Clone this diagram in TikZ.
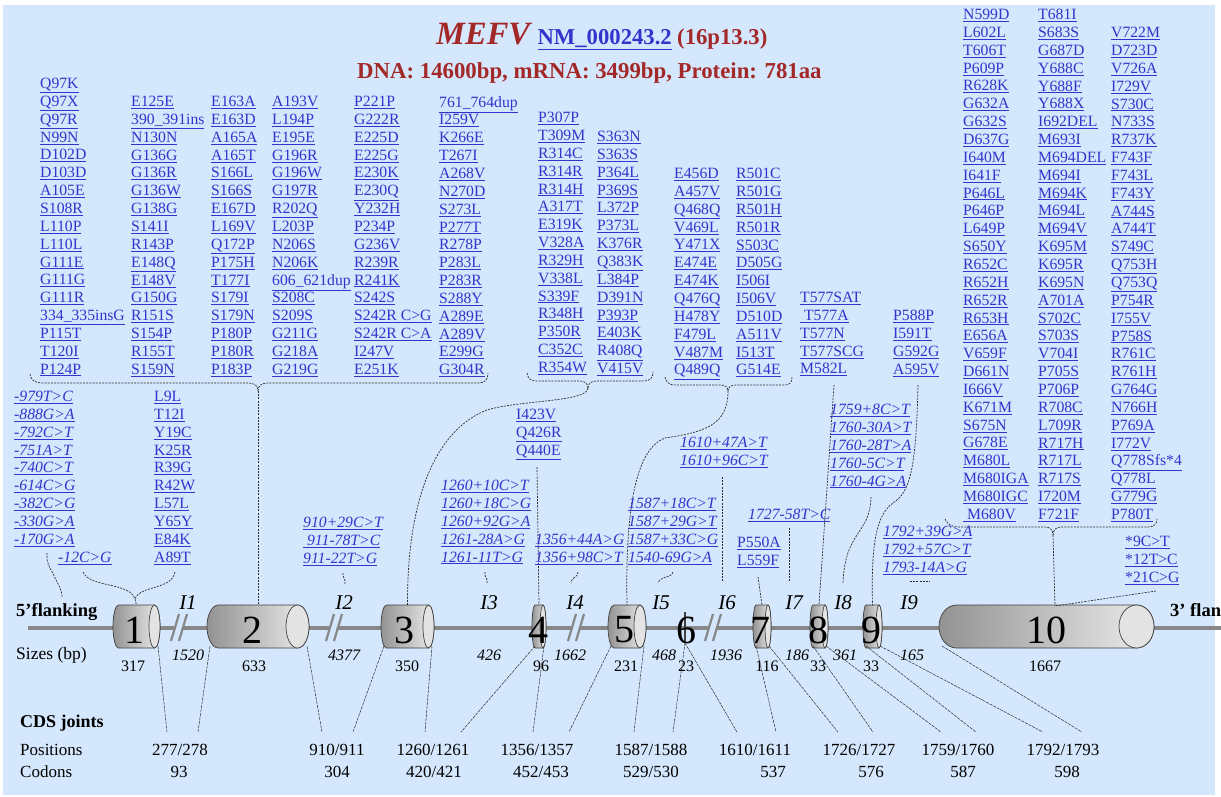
\documentclass[tikz,border=0pt]{standalone}
\usepackage{fontspec}
\setmainfont{Liberation Serif}
\usetikzlibrary{positioning}

\definecolor{bgblue}{RGB}{212,231,252}
\definecolor{linkblue}{RGB}{52,52,205}
\definecolor{titlered}{RGB}{163,40,40}
\definecolor{linegray}{RGB}{135,135,135}

\newcommand{\lnk}[1]{\underline{#1}}
\newcommand{\mutsize}{\fontsize{15.7}{17.85}\selectfont}

% exon cylinder: name, left x, right x, cap radius, label x, label
\newcommand{\exon}[6]{%
  \shade[left color=gray!85, right color=gray!15, draw=gray!50!black, line width=0.7pt]
    (#2+#4,605) -- (#3-#4,605) arc (-90:90:#4 and 21.5) -- (#2+#4,648)
    arc (90:270:#4 and 21.5) -- cycle;
  \draw[fill=gray!22, draw=gray!50!black, line width=0.7pt] (#3-#4,626.5) ellipse (#4 and 21.5);
  \coordinate (#1-t) at ({(#2+#3)/2},605);
  \coordinate (#1-l) at (#2+3,646);
  \coordinate (#1-r) at (#3-2,646);
  \node[exonlbl] (#1) at (#5,630) {#6};
}

\begin{document}
\begin{tikzpicture}[x=1pt, y=-1pt,
    mut/.style={anchor=north west, inner sep=0pt, align=left, text=linkblue, font=\mutsize},
    imut/.style={mut, font=\mutsize\itshape},
    conn/.style={gray!35!black, line width=0.7pt, dash pattern=on 2pt off 1.2pt},
    joint/.style={gray!35!black, line width=0.5pt, dash pattern=on 3pt off 1pt},
    exonlbl/.style={inner sep=0pt, font=\fontsize{40}{40}\selectfont},
    intronlbl/.style={inner sep=0pt, font=\fontsize{21}{21}\selectfont\itshape},
    exsize/.style={inner sep=0pt, font=\fontsize{16}{16}\selectfont},
    insize/.style={inner sep=0pt, font=\fontsize{16}{16}\selectfont\itshape},
    cds/.style={inner sep=0pt, font=\fontsize{17}{17}\selectfont}]
    \useasboundingbox (0,0) rectangle (1221,797);
    \clip (0,0) rectangle (1221,797);
    \fill[bgblue] (3,5) rectangle (1215,795);

    % Title
    \node[anchor=base west, inner sep=0pt, text=titlered, font=\fontsize{32.5}{32.5}\selectfont\bfseries\itshape] (gene) at (436,45) {MEFV};
    \node[base right=7pt of gene, inner sep=0pt, text=linkblue, font=\fontsize{22.7}{22.7}\selectfont\bfseries] (acc) {\lnk{NM\_000243.2}};
    \node[base right=5pt of acc, inner sep=0pt, text=titlered, font=\fontsize{22.7}{22.7}\selectfont\bfseries] (band) {(16p13.3)};
    \node[anchor=base west, inner sep=0pt, text=titlered, font=\fontsize{22.8}{22.8}\selectfont\bfseries] (stats) at (357,79) {DNA: 14600bp, mRNA: 3499bp, Protein: 781aa};

    % Gene line and exons
    \draw[line width=4pt, linegray] (28,628) -- (1230,628);
    \foreach \bx in {180,335,577,714} {
        \fill[bgblue] (\bx-8,641) -- (\bx-2,641) -- (\bx+6,614) -- (\bx,614) -- cycle;
        \draw[line width=2.2pt, linegray] (\bx-9,641) -- (\bx-1,614);
        \draw[line width=2.2pt, linegray] (\bx-1,641) -- (\bx+7,614);
    }
    \exon{ex1}{113}{160}{5.5}{134}{1}
    \exon{ex2}{207}{309}{11.5}{252}{2}
    \exon{ex3}{381}{434}{5.5}{404}{3}
    \exon{ex4}{532}{546}{3}{538}{4}
    \exon{ex5}{608}{646}{6}{624}{5}
    \exon{ex7}{753}{771}{3}{760}{7}
    \exon{ex8}{810}{828}{3}{818}{8}
    \exon{ex9}{863}{882}{3}{871}{9}
    \exon{ex10}{939}{1154}{17.5}{1046}{10}
    % exon 6 is only a stroke
    \draw[line width=2pt, black!75] (685,612) -- (685,643);
    \coordinate (ex6-l) at (685,643);
    \coordinate (ex6-r) at (685,643);
    \node[exonlbl] (ex6) at (686,630) {6};

    \node[anchor=west, inner sep=0pt, font=\fontsize{18.5}{18.5}\selectfont\bfseries] (flank5) at (16,612) {5'flanking};
    \node[anchor=west, inner sep=0pt, font=\fontsize{18.5}{18.5}\selectfont\bfseries] (flank3) at (1170,612) {3' flanking};

    % Introns
    \node[intronlbl] (I1) at (188,603) {I1};
    \node[intronlbl] (I2) at (344,603) {I2};
    \node[intronlbl] (I3) at (489,603) {I3};
    \node[intronlbl] (I4) at (575,603) {I4};
    \node[intronlbl] (I5) at (661,603) {I5};
    \node[intronlbl] (I6) at (727,603) {I6};
    \node[intronlbl] (I7) at (794,603) {I7};
    \node[intronlbl] (I8) at (843,603) {I8};
    \node[intronlbl] (I9) at (909,603) {I9};

    % Sizes
    \node[anchor=west, inner sep=0pt, font=\fontsize{17.5}{17.5}\selectfont] (sizes) at (16,655) {Sizes (bp)};
    \node[exsize] (sz1) at (133,666) {317};
    \node[exsize] (sz2) at (254,666) {633};
    \node[exsize] (sz3) at (407,666) {350};
    \node[exsize] (sz4) at (541,666) {96};
    \node[exsize] (sz5) at (626,666) {231};
    \node[exsize] (sz6) at (686,666) {23};
    \node[exsize] (sz7) at (767,666) {116};
    \node[exsize] (sz8) at (818,666) {33};
    \node[exsize] (sz9) at (871,666) {33};
    \node[exsize] (sz10) at (1045,666) {1667};
    \node[insize] (isz1) at (188,655) {1520};
    \node[insize] (isz2) at (344,655) {4377};
    \node[insize] (isz3) at (489,655) {426};
    \node[insize] (isz4) at (570,655) {1662};
    \node[insize] (isz5) at (664,655) {468};
    \node[insize] (isz6) at (726,655) {1936};
    \node[insize] (isz7) at (797,655) {186};
    \node[insize] (isz8) at (845,655) {361};
    \node[insize] (isz9) at (912,655) {165};

    % CDS joints
    \node[anchor=west, inner sep=0pt, font=\fontsize{18}{18}\selectfont\bfseries] (joints) at (20,723) {CDS joints};
    \node[anchor=west, cds] (posrow) at (20,750) {Positions};
    \node[anchor=west, cds] (codrow) at (20,772) {Codons};
    \node[cds] (p1) at (180,750) {277/278};
    \node[cds] (p2) at (337,750) {910/911};
    \node[cds] (p3) at (433,750) {1260/1261};
    \node[cds] (p4) at (537,750) {1356/1357};
    \node[cds] (p5) at (651,750) {1587/1588};
    \node[cds] (p6) at (755,750) {1610/1611};
    \node[cds] (p7) at (859,750) {1726/1727};
    \node[cds] (p8) at (958,750) {1759/1760};
    \node[cds] (p9) at (1063,750) {1792/1793};
    \node[cds] (c1) at (179,772) {93};
    \node[cds] (c2) at (337,772) {304};
    \node[cds] (c3) at (434,772) {420/421};
    \node[cds] (c4) at (541,772) {452/453};
    \node[cds] (c5) at (651,772) {529/530};
    \node[cds] (c6) at (773,772) {537};
    \node[cds] (c7) at (871,772) {576};
    \node[cds] (c8) at (963,772) {587};
    \node[cds] (c9) at (1067,772) {598};
    \draw[joint] (ex1-r) -- ([shift={(-13,-12)}]p1.north);
    \draw[joint] (ex2-l) -- ([shift={(18,-12)}]p1.north);
    \draw[joint] (ex2-r) -- ([shift={(-15,-12)}]p2.north);
    \draw[joint] (ex3-l) -- ([shift={(16,-12)}]p2.north);
    \draw[joint] (ex3-r) -- ([shift={(-8,-12)}]p3.north);
    \draw[joint] (ex4-l) -- ([shift={(28,-12)}]p3.north);
    \draw[joint] (ex4-r) -- ([shift={(-4,-12)}]p4.north);
    \draw[joint] (ex5-l) -- ([shift={(32,-12)}]p4.north);
    \draw[joint] (ex5-r) -- ([shift={(-17,-12)}]p5.north);
    \draw[joint] (ex6-l) -- ([shift={(22,-12)}]p5.north);
    \draw[joint] (ex6-r) -- ([shift={(-18,-12)}]p6.north);
    \draw[joint] (ex7-l) -- ([shift={(21,-12)}]p6.north);
    \draw[joint] (ex7-r) -- ([shift={(-21,-12)}]p7.north);
    \draw[joint] (ex8-l) -- ([shift={(14,-12)}]p7.north);
    \draw[joint] (ex8-r) -- ([shift={(-17,-12)}]p8.north);
    \draw[joint] (ex9-l) -- ([shift={(18,-12)}]p8.north);
    \draw[joint] (ex9-r) -- ([shift={(-20,-12)}]p9.north);
    \draw[joint] (ex10-l) -- ([shift={(19,-12)}]p9.north);

    % Exon 2 variants
    \node[mut] (colA) at (40,78) {\lnk{Q97K}\\\lnk{Q97X}\\\lnk{Q97R}\\\lnk{N99N}\\\lnk{D102D}\\\lnk{D103D}\\\lnk{A105E}\\\lnk{S108R}\\\lnk{L110P}\\\lnk{L110L}\\\lnk{G111E}\\\lnk{G111G}\\\lnk{G111R}\\\lnk{334\_335insG}\\\lnk{P115T}\\\lnk{T120I}\\\lnk{P124P}};
    \node[mut] (colB) at (131,96) {\lnk{E125E}\\\lnk{390\_391ins}\\\lnk{N130N}\\\lnk{G136G}\\\lnk{G136R}\\\lnk{G136W}\\\lnk{G138G}\\\lnk{S141I}\\\lnk{R143P}\\\lnk{E148Q}\\\lnk{E148V}\\\lnk{G150G}\\\lnk{R151S}\\\lnk{S154P}\\\lnk{R155T}\\\lnk{S159N}};
    \node[mut] (colC) at (211,96) {\lnk{E163A}\\\lnk{E163D}\\\lnk{A165A}\\\lnk{A165T}\\\lnk{S166L}\\\lnk{S166S}\\\lnk{E167D}\\\lnk{L169V}\\\lnk{Q172P}\\\lnk{P175H}\\\lnk{T177I}\\\lnk{S179I}\\\lnk{S179N}\\\lnk{P180P}\\\lnk{P180R}\\\lnk{P183P}};
    \node[mut] (colD) at (272,96) {\lnk{A193V}\\\lnk{L194P}\\\lnk{E195E}\\\lnk{G196R}\\\lnk{G196W}\\\lnk{G197R}\\\lnk{R202Q}\\\lnk{L203P}\\\lnk{N206S}\\\lnk{N206K}\\\lnk{606\_621dup}\\\lnk{S208C}\\\lnk{S209S}\\\lnk{G211G}\\\lnk{G218A}\\\lnk{G219G}};
    \node[mut] (colE) at (354,96) {\lnk{P221P}\\\lnk{G222R}\\\lnk{E225D}\\\lnk{E225G}\\\lnk{E230K}\\\lnk{E230Q}\\\lnk{Y232H}\\\lnk{P234P}\\\lnk{G236V}\\\lnk{R239R}\\\lnk{R241K}\\\lnk{S242S}\\\lnk{S242R C>G}\\\lnk{S242R C>A}\\\lnk{I247V}\\\lnk{E251K}};
    \node[mut] (colF) at (439,96) {\lnk{761\_764dup}\\\lnk{I259V}\\\lnk{K266E}\\\lnk{T267I}\\\lnk{A268V}\\\lnk{N270D}\\\lnk{S273L}\\\lnk{P277T}\\\lnk{R278P}\\\lnk{P283L}\\\lnk{P283R}\\\lnk{S288Y}\\\lnk{A289E}\\\lnk{A289V}\\\lnk{E299G}\\\lnk{G304R}};
    \coordinate (bA) at (258,391);
    \draw[conn] (30,374) .. controls (31,381) and (35,383) .. (44,383) -- (248,383) .. controls (255,383) and (258,386) .. (bA);
    \draw[conn] (bA) .. controls (258,386) and (261,383) .. (268,383) -- (478,383) .. controls (485,383) and (488,380) .. (488,373);
    \draw[conn] (bA) -- (ex2-t);

    % Exon 3 variants
    \node[mut] (colG) at (538,112) {\lnk{P307P}\\\lnk{T309M}\\\lnk{R314C}\\\lnk{R314R}\\\lnk{R314H}\\\lnk{A317T}\\\lnk{E319K}\\\lnk{V328A}\\\lnk{R329H}\\\lnk{V338L}\\\lnk{S339F}\\\lnk{R348H}\\\lnk{P350R}\\\lnk{C352C}\\\lnk{R354W}};
    \node[mut] (colH) at (597,131) {\lnk{S363N}\\\lnk{S363S}\\\lnk{P364L}\\\lnk{P369S}\\\lnk{L372P}\\\lnk{P373L}\\\lnk{K376R}\\\lnk{Q383K}\\\lnk{L384P}\\\lnk{D391N}\\\lnk{P393P}\\\lnk{E403K}\\\lnk{R408Q}\\\lnk{V415V}};
    \coordinate (bB) at (588,388);
    \draw[conn] (527,373) .. controls (528,379) and (531,381) .. (537,381) -- (580,381) .. controls (585,381) and (588,384) .. (bB);
    \draw[conn] (bB) .. controls (588,384) and (591,381) .. (596,381) -- (644,381) .. controls (650,381) and (653,378) .. (653,372);
    \draw[conn] (bB) .. controls (588,402) and (520,400) .. (487,410) .. controls (440,428) and (407,490) .. (ex3-t);

    % Exon 5 variants
    \node[mut] (colI) at (674,168) {\lnk{E456D}\\\lnk{A457V}\\\lnk{Q468Q}\\\lnk{V469L}\\\lnk{Y471X}\\\lnk{E474E}\\\lnk{E474K}\\\lnk{Q476Q}\\\lnk{H478Y}\\\lnk{F479L}\\\lnk{V487M}\\\lnk{Q489Q}};
    \node[mut] (colJ) at (736,168) {\lnk{R501C}\\\lnk{R501G}\\\lnk{R501H}\\\lnk{R501R}\\\lnk{S503C}\\\lnk{D505G}\\\lnk{I506I}\\\lnk{I506V}\\\lnk{D510D}\\\lnk{A511V}\\\lnk{I513T}\\\lnk{G514E}};
    \coordinate (bC) at (728,391);
    \draw[conn] (665,377) .. controls (666,382) and (669,385) .. (675,385) -- (720,385) .. controls (725,385) and (728,387) .. (bC);
    \draw[conn] (bC) .. controls (728,387) and (731,385) .. (736,385) -- (785,385) .. controls (790,385) and (792,382) .. (792,377);
    \draw[conn] (bC) .. controls (728,425) and (705,432) .. (665,438) .. controls (638,448) and (625,500) .. (ex5-t);

    % Exon 8 and exon 9 variants
    \node[mut] (colK) at (800,292) {\lnk{T577SAT}\\\lnk{\ T577A}\\\lnk{T577N}\\\lnk{T577SCG}\\\lnk{M582L}};
    \coordinate (tK) at (834,385);
    \draw[conn] (tK) -- (ex8-t);
    \node[mut] (colL) at (893,310) {\lnk{P588P}\\\lnk{I591T}\\\lnk{G592G}\\\lnk{A595V}};
    \coordinate (tL) at (918,385);
    \draw[conn] (tL) .. controls (916,470) and (910,492) .. (893,503) .. controls (876,515) and (871,545) .. (ex9-t);

    % Exon 10 variants
    \node[mut] (colM) at (963,9) {\lnk{N599D}\\\lnk{L602L}\\\lnk{T606T}\\\lnk{P609P}\\\lnk{R628K}\\\lnk{G632A}\\\lnk{G632S}\\\lnk{D637G}\\\lnk{I640M}\\\lnk{I641F}\\\lnk{P646L}\\\lnk{P646P}\\\lnk{L649P}\\\lnk{S650Y}\\\lnk{R652C}\\\lnk{R652H}\\\lnk{R652R}\\\lnk{R653H}\\\lnk{E656A}\\\lnk{V659F}\\\lnk{D661N}\\\lnk{I666V}\\\lnk{K671M}\\\lnk{S675N}\\\lnk{G678E}\\\lnk{M680L}\\\lnk{M680IGA}\\\lnk{M680IGC}\\\lnk{\ M680V}};
    \node[mut] (colN) at (1038,9) {\lnk{T681I}\\\lnk{S683S}\\\lnk{G687D}\\\lnk{Y688C}\\\lnk{Y688F}\\\lnk{Y688X}\\\lnk{I692DEL}\\\lnk{M693I}\\\lnk{M694DEL}\\\lnk{M694I}\\\lnk{M694K}\\\lnk{M694L}\\\lnk{M694V}\\\lnk{K695M}\\\lnk{K695R}\\\lnk{K695N}\\\lnk{A701A}\\\lnk{S702C}\\\lnk{S703S}\\\lnk{V704I}\\\lnk{P705S}\\\lnk{P706P}\\\lnk{R708C}\\\lnk{L709R}\\\lnk{R717H}\\\lnk{R717L}\\\lnk{R717S}\\\lnk{I720M}\\\lnk{F721F}};
    \node[mut] (colO) at (1111,27) {\lnk{V722M}\\\lnk{D723D}\\\lnk{V726A}\\\lnk{I729V}\\\lnk{S730C}\\\lnk{N733S}\\\lnk{R737K}\\\lnk{F743F}\\\lnk{F743L}\\\lnk{F743Y}\\\lnk{A744S}\\\lnk{A744T}\\\lnk{S749C}\\\lnk{Q753H}\\\lnk{Q753Q}\\\lnk{P754R}\\\lnk{I755V}\\\lnk{P758S}\\\lnk{R761C}\\\lnk{R761H}\\\lnk{G764G}\\\lnk{N766H}\\\lnk{P769A}\\\lnk{I772V}\\\lnk{Q778Sfs*4}\\\lnk{Q778L}\\\lnk{G779G}\\\lnk{P780T}};
    \coordinate (bF) at (1053,535);
    \coordinate (ex10-c) at (1055,606);
    \draw[conn] (945,519) .. controls (948,525) and (952,527) .. (960,527) -- (1045,527) .. controls (1050,527) and (1053,530) .. (bF);
    \draw[conn] (bF) .. controls (1053,530) and (1056,527) .. (1061,527) -- (1148,527) .. controls (1154,527) and (1157,524) .. (1157,519);
    \draw[conn] (bF) -- (ex10-c);
    \node[mut] (colP) at (1125,536) {\lnk{*9C>T}\\\lnk{*12T>C}\\\lnk{*21C>G}};
    \coordinate (tP) at (1156,591);
    \draw[conn] (tP) -- (ex10-c);

    % 5' flanking and exon 1 variants
    \node[imut] (flank) at (14,391) {\lnk{-979T>C}\\\lnk{-888G>A}\\\lnk{-792C>T}\\\lnk{-751A>T}\\\lnk{-740C>T}\\\lnk{-614C>G}\\\lnk{-382C>G}\\\lnk{-330G>A}\\\lnk{-170G>A}};
    \node[imut] (m12) at (58,552) {\lnk{-12C>G}};
    \node[mut] (colQ) at (154,391) {\lnk{L9L}\\\lnk{T12I}\\\lnk{Y19C}\\\lnk{K25R}\\\lnk{R39G}\\\lnk{R42W}\\\lnk{L57L}\\\lnk{Y65Y}\\\lnk{E84K}\\\lnk{A89T}};
    \coordinate (tfl) at (47,553);
    \coordinate (fl5) at (62,598);
    \draw[conn] (tfl) .. controls (46,565) and (52,570) .. (55,578) .. controls (60,588) and (62,590) .. (fl5);
    \coordinate (bQ) at (135,599);
    \draw[conn] (83,572) .. controls (90,588) and (130,582) .. (bQ);
    \draw[conn] (175,572) .. controls (172,590) and (140,585) .. (bQ);
    \draw[conn] (bQ) -- (ex1-t);

    % Intron and small exon groups
    \node[imut] (intr2) at (303,517) {\lnk{910+29C>T}\\\lnk{\ 911-78T>C}\\\lnk{911-22T>G}};
    \draw[conn] (343,573) .. controls (342,578) and (346,578) .. (345,584);
    \node[imut] (intr3) at (441,480) {\lnk{1260+10C>T}\\\lnk{1260+18C>G}\\\lnk{1260+92G>A}\\\lnk{1261-28A>G}\\\lnk{1261-11T>G}};
    \draw[conn] (485,572) .. controls (484,577) and (488,578) .. (487,583);
    \node[mut] (colR) at (516,409) {\lnk{I423V}\\\lnk{Q426R}\\\lnk{Q440E}};
    \coordinate (tR) at (537,467);
    \draw[conn] (tR) -- (ex4-t);
    \node[imut] (intr4) at (535,534) {\lnk{1356+44A>G}\\\lnk{1356+98C>T}};
    \draw[conn] (578,572) .. controls (578,578) and (572,576) .. (571,583);
    \node[imut] (intr5) at (628,498) {\lnk{1587+18C>T}\\\lnk{1587+29G>T}\\\lnk{1587+33C>G}\\\lnk{1540-69G>A}};
    \draw[conn] (673,572) .. controls (672,578) and (660,576) .. (658,583);
    \node[imut] (intr6) at (680,437) {\lnk{1610+47A>T}\\\lnk{1610+96C>T}};
    \draw[conn] (722,477) -- (722,582);
    \node[mut] (colS) at (737,537) {\lnk{P550A}\\\lnk{L559F}};
    \coordinate (tS) at (758,577);
    \draw[conn] (tS) -- (ex7-t);
    \node[imut] (intr7) at (748,509) {\lnk{1727-58T>C}};
    \draw[conn] (789,528) -- (789,582);
    \node[imut] (intr8) at (830,404) {\lnk{1759+8C>T}\\\lnk{1760-30A>T}\\\lnk{1760-28T>A}\\\lnk{1760-5C>T}\\\lnk{1760-4G>A}};
    \draw[conn] (871,497) .. controls (870,535) and (845,530) .. (843,583);
    \node[imut] (intr9) at (883,526) {\lnk{1792+39G>A}\\\lnk{1792+57C>T}\\\lnk{1793-14A>G}};
    \draw[conn] (910,581) -- (930,581);
\end{tikzpicture}
\end{document}
